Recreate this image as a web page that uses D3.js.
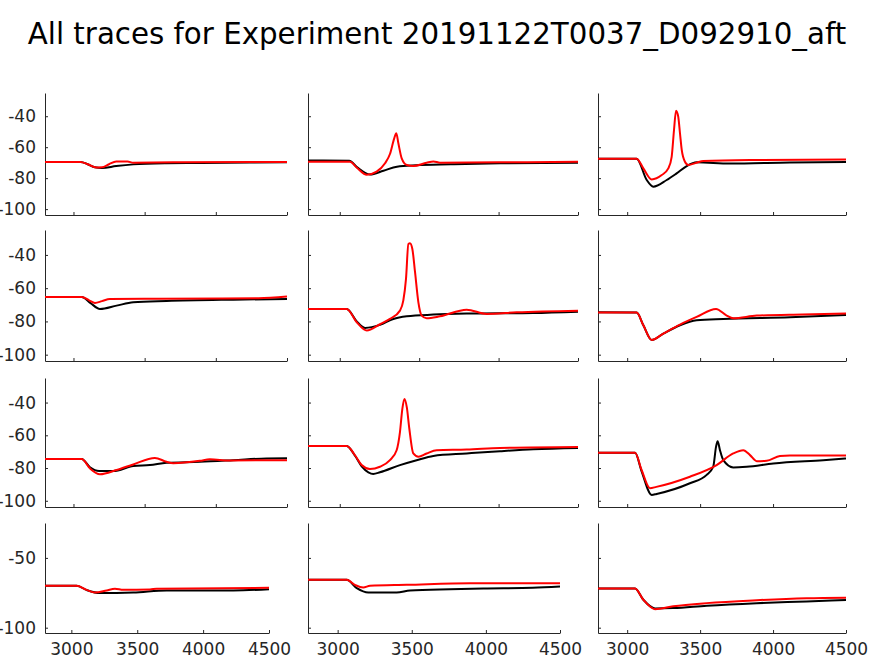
<!DOCTYPE html>
<html>
<head>
<meta charset="utf-8">
<script src="https://cdn.jsdelivr.net/npm/d3@7"></script>
<style>
  body { margin: 0; background: #fff; }
  svg { display: block; }
</style>
</head>
<body>
<svg id="chart" width="874" height="656"></svg>
<script>
// chart title
const title = 'All traces for Experiment 20191122T0037_D092910_aft';

// tick values
const xTicks = [3000, 3500, 4000, 4500];
const yTicks = [-40, -60, -80, -100];
const yTicksLast = [-50, -100];
const xDomain = [2800, 4500];
const yDomain = [-103.8, -25];

// traces, [time, value] per point; row/col in the name
const black11 = [[2800,-69.5],[3050,-69.5],[3100,-71],[3150,-73],[3200,-73.5],[3300,-72.2],[3420,-71.1],[3650,-70.4],[3900,-70.2],[4500,-69.8]];
const red11 = [[2800,-69.5],[3050,-69.5],[3100,-71],[3160,-73.2],[3200,-73],[3250,-71],[3300,-69.3],[3380,-69.3],[3420,-70],[3700,-69.8],[4500,-69.5]];

const black12 = [[2800,-68.6],[3060,-68.8],[3110,-73],[3190,-77.6],[3275,-75.2],[3360,-72.6],[3480,-71.7],[3700,-71.1],[4010,-70.4],[4500,-70]];
const red12 = [[2800,-69.4],[3064,-69.4],[3110,-73.5],[3170,-77.8],[3232,-75.8],[3285,-70.4],[3316,-64.4],[3343,-54.3],[3356,-51],[3369,-57.5],[3390,-67.2],[3422,-71.5],[3463,-72.2],[3547,-70],[3590,-69.2],[3631,-70],[4000,-69.8],[4500,-69.4]];

const black13 = [[2800,-67.4],[3065,-67.4],[3134,-81.2],[3179,-85.5],[3271,-81.2],[3339,-76.9],[3408,-72.2],[3476,-69.8],[3705,-70.6],[4116,-69.9],[4500,-69.5]];
const red13 = [[2800,-67.4],[3065,-67.4],[3111,-73.7],[3168,-80.8],[3237,-78],[3282,-73.7],[3305,-66.2],[3321,-48.9],[3335,-36.4],[3350,-40.3],[3362,-51],[3374,-61.8],[3396,-69.4],[3419,-71.5],[3476,-70],[3522,-68.9],[3842,-68.3],[4500,-68]];

const black21 = [[2800,-65.3],[3058,-65.3],[3120,-69],[3186,-72.5],[3303,-70.5],[3420,-68.5],[3654,-67.7],[4122,-66.9],[4500,-66.5]];
const red21 = [[2800,-65.3],[3058,-65.3],[3110,-67.3],[3151,-68.9],[3200,-67.8],[3256,-66.5],[3600,-66.3],[4300,-66],[4500,-65]];

const black22 = [[2800,-72.5],[3044,-72.5],[3107,-80],[3159,-83.9],[3253,-82.1],[3337,-78.5],[3422,-76.9],[3589,-75.9],[3799,-75.3],[4217,-74.9],[4500,-74.1]];
const red22 = [[2800,-72.5],[3044,-72.5],[3107,-80.5],[3170,-85.5],[3253,-81.7],[3316,-78.5],[3379,-73.5],[3400,-67.5],[3417,-54.4],[3432,-33.4],[3442,-33],[3457,-36.4],[3474,-50.4],[3495,-68.5],[3516,-76.5],[3547,-78.1],[3631,-76.9],[3799,-72.9],[3925,-75.5],[4114,-74.5],[4500,-73.5]];

const black23 = [[2800,-74.5],[3065,-74.7],[3111,-82.3],[3168,-91.1],[3248,-87.3],[3362,-82.3],[3476,-79.3],[3659,-78.5],[4116,-77.5],[4500,-76.1]];
const red23 = [[2800,-74.7],[3065,-74.7],[3111,-82.3],[3168,-91.1],[3248,-87.3],[3362,-81.9],[3476,-77.3],[3609,-72.5],[3682,-76.5],[3727,-78.1],[3888,-76.5],[4200,-75.8],[4500,-75.3]];

const black31 = [[2800,-74.5],[3058,-74.5],[3116,-79.5],[3180,-81.8],[3280,-81.8],[3420,-78.8],[3537,-78.2],[3654,-76.8],[3888,-76.2],[4122,-75.2],[4357,-74.1],[4500,-74]];
const red31 = [[2800,-74.5],[3058,-74.5],[3116,-80.2],[3186,-83.8],[3303,-81.2],[3420,-77.8],[3572,-73.8],[3654,-76.2],[3701,-77],[3888,-75.6],[3958,-74.7],[4099,-75.4],[4500,-75.2]];

const black32 = [[2800,-66.5],[3044,-66.5],[3096,-72.5],[3138,-79],[3180,-82.6],[3211,-83.6],[3253,-82.6],[3379,-78.2],[3484,-75.2],[3589,-72.6],[3799,-71.1],[4009,-69.7],[4219,-68.5],[4500,-67.7]];
const red32 = [[2800,-66.5],[3044,-66.5],[3096,-72.2],[3138,-78.2],[3190,-80.6],[3253,-79.2],[3316,-75.2],[3358,-69.1],[3379,-58],[3394,-43.8],[3407,-37.8],[3422,-42.8],[3438,-56],[3463,-71.1],[3495,-73.1],[3547,-71.1],[3610,-69.1],[3799,-68.7],[4009,-67.7],[4500,-67.1]];

const black33 = [[2800,-70.7],[3054,-70.7],[3099,-82],[3168,-96.4],[3202,-95.8],[3430,-89.3],[3545,-84.2],[3590,-79.2],[3609,-67.1],[3620,-63.6],[3636,-69.1],[3659,-75.2],[3727,-79.6],[3819,-79.2],[4002,-77.2],[4344,-75.2],[4500,-74.2]];
const red33 = [[2800,-70.7],[3054,-70.7],[3099,-81.2],[3156,-92.3],[3200,-91.5],[3430,-85.3],[3613,-78.2],[3727,-71.1],[3796,-69.1],[3842,-72.1],[3888,-75.8],[3956,-75.6],[4047,-72.7],[4116,-72.4],[4500,-72.4]];

const black41 = [[2800,-70],[3040,-70],[3120,-73.2],[3217,-75.2],[3470,-74.8],[3723,-73.3],[4229,-73.3],[4500,-72.4]];
const red41 = [[2800,-70],[3040,-70],[3116,-72.9],[3179,-74.8],[3268,-73.3],[3331,-72.1],[3394,-72.9],[3597,-72.6],[3647,-72.1],[4500,-71.4]];

const black42 = [[2800,-65.7],[3061,-65.7],[3129,-71.7],[3207,-74.8],[3398,-74.8],[3488,-73.3],[3758,-72.4],[3983,-71.9],[4316,-71.4],[4500,-70.5]];
const red42 = [[2800,-65.7],[3061,-65.7],[3120,-69.5],[3173,-71.2],[3218,-70],[3466,-69.3],[3893,-68.1],[4500,-68.1]];

const black43 = [[2800,-71.9],[3054,-71.9],[3111,-80],[3191,-86.2],[3316,-85.9],[3545,-84.2],[3888,-82.4],[4230,-81.2],[4500,-80.2]];
const red43 = [[2800,-71.9],[3054,-71.9],[3111,-80],[3191,-86.7],[3316,-84.7],[3545,-82.4],[3888,-80.3],[4230,-78.9],[4500,-78.5]];

const traces = [
  [black11, red11], [black12, red12], [black13, red13],
  [black21, red21], [black22, red22], [black23, red23],
  [black31, red31], [black32, red32], [black33, red33],
  [black41, red41], [black42, red42], [black43, red43]
];

// panel boxes: [left, right] per column, [top, bottom] per row
const colBox = [[45, 287], [308, 578], [598, 846]];
const colBoxLast = [[45, 269], [308, 560], [598, 846]];
const rowBox = [[93, 215], [230, 361], [378, 507], [523, 633]];

const axisColor = '#262626';
const font = 'DejaVu Sans, sans-serif';
const svg = d3.select('#chart');

svg.append('text')
  .attr('x', 437)
  .attr('y', 44)
  .attr('text-anchor', 'middle')
  .style('font-family', font)
  .style('font-size', '29.3px')
  .style('fill', '#000')
  .text(title);

// plain hyphen minus like the original
const fmt = (d) => String(d);

traces.forEach((pair, i) => {
  const row = Math.floor(i / 3);
  const col = i % 3;
  const last = row === 3;
  const xr = last ? colBoxLast[col] : colBox[col];
  const yr = rowBox[row];

  const x = d3.scaleLinear().domain(xDomain).range(xr);
  const y = d3.scaleLinear().domain(yDomain).range([yr[1], yr[0]]);

  const g = svg.append('g');

  // x axis (ticks point inward)
  const xAxis = g.append('g')
    .attr('transform', 'translate(0,' + yr[1] + ')')
    .call(d3.axisBottom(x).tickValues(xTicks).tickSizeInner(-3).tickSizeOuter(0)
      .tickFormat(last ? fmt : () => ''));

  // y axis
  const yAxis = g.append('g')
    .attr('transform', 'translate(' + xr[0] + ',0)')
    .call(d3.axisLeft(y).tickValues(last ? yTicksLast : yTicks).tickSizeInner(-3).tickSizeOuter(0)
      .tickFormat(col === 0 ? fmt : () => ''));

  [xAxis, yAxis].forEach((a) => {
    a.attr('font-family', font).attr('font-size', 17);
    a.select('.domain').attr('stroke', axisColor).attr('stroke-width', 1);
    a.selectAll('.tick line').attr('stroke', axisColor);
    a.selectAll('.tick text').attr('fill', axisColor);
  });
  yAxis.selectAll('.tick text').attr('x', -9);
  xAxis.selectAll('.tick text').attr('y', 10);

  const line = d3.line()
    .x((d) => x(d[0]))
    .y((d) => y(d[1]))
    .curve(d3.curveMonotoneX);

  g.append('path')
    .datum(pair[0])
    .attr('fill', 'none')
    .attr('stroke', '#000')
    .attr('stroke-width', 2)
    .attr('d', line);

  g.append('path')
    .datum(pair[1])
    .attr('fill', 'none')
    .attr('stroke', '#ff0000')
    .attr('stroke-width', 2)
    .attr('d', line);
});
</script>
</body>
</html>
